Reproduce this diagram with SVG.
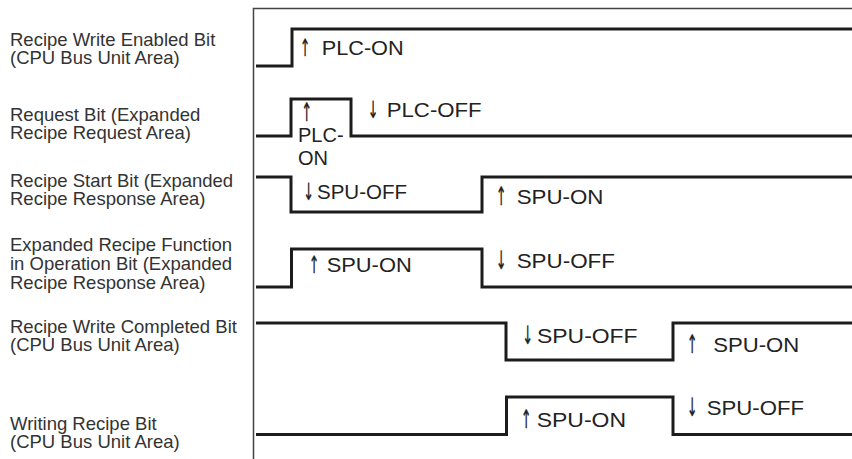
<svg xmlns="http://www.w3.org/2000/svg" width="852" height="459" viewBox="0 0 852 459">
<style>
.lbl{font-family:"Liberation Sans",Arial,sans-serif;font-size:18.5px;fill:#333}
.tt{font-family:"Liberation Sans",Arial,sans-serif;font-size:20px;fill:#222}
.tb{font-size:21px}
.ar{font-family:"DejaVu Sans",sans-serif;font-size:17px;fill:#222;stroke:#222;stroke-width:0.25;text-anchor:middle}
.sig{fill:none;stroke:#1c1c1c;stroke-width:3;stroke-linejoin:miter;stroke-linecap:butt}
.frame{fill:none;stroke:#444;stroke-width:1.5}
</style>
<rect width="852" height="459" fill="#fff"/>
<g id="frame">
<path class="frame" d="M253.5 459 V8.5 H852"/>
</g>
<g id="sig-write-enabled">
<text class="lbl"><tspan x="10" y="46">Recipe Write Enabled Bit</tspan><tspan x="10" dy="18">(CPU Bus Unit Area)</tspan></text>
<text class="ar" transform="translate(305 56) scale(0.75 1.4)">↑</text>
<text class="tt" x="321.7" y="55" textLength="82" lengthAdjust="spacingAndGlyphs">PLC-ON</text>
</g>
<g id="sig-request">
<text class="lbl"><tspan x="10" y="121">Request Bit (Expanded</tspan><tspan x="10" dy="18">Recipe Request Area)</tspan></text>
<text class="ar" transform="translate(306.5 121) scale(0.75 1.5)">↑</text>
<text class="tt"><tspan x="298" y="142">PLC-</tspan><tspan x="298" y="165">ON</tspan></text>
<text class="ar" transform="translate(373 118) scale(0.75 1.4)">↓</text>
<text class="tt" x="386.7" y="117" textLength="95" lengthAdjust="spacingAndGlyphs">PLC-OFF</text>
</g>
<g id="sig-start">
<text class="lbl"><tspan x="10" y="187">Recipe Start Bit (Expanded</tspan><tspan x="10" dy="18">Recipe Response Area)</tspan></text>
<text class="ar" transform="translate(308.5 200) scale(0.75 1.4)">↓</text>
<text class="tt" x="317" y="199" textLength="90" lengthAdjust="spacingAndGlyphs">SPU-OFF</text>
<text class="ar" transform="translate(501 205) scale(0.75 1.5)">↑</text>
<text class="tt tb" x="516.7" y="204" textLength="86.7" lengthAdjust="spacingAndGlyphs">SPU-ON</text>
</g>
<g id="sig-in-operation">
<text class="lbl"><tspan x="10" y="251">Expanded Recipe Function</tspan><tspan x="10" dy="19">in Operation Bit (Expanded</tspan><tspan x="10" dy="19">Recipe Response Area)</tspan></text>
<text class="ar" transform="translate(314 272.5) scale(0.75 1.4)">↑</text>
<text class="tt" x="326.7" y="271.5" textLength="85" lengthAdjust="spacingAndGlyphs">SPU-ON</text>
<text class="ar" transform="translate(501 269) scale(0.75 1.5)">↓</text>
<text class="tt tb" x="516.7" y="268" textLength="98.3" lengthAdjust="spacingAndGlyphs">SPU-OFF</text>
</g>
<g id="sig-write-completed">
<text class="lbl"><tspan x="10" y="333">Recipe Write Completed Bit</tspan><tspan x="10" dy="18">(CPU Bus Unit Area)</tspan></text>
<text class="ar" transform="translate(527.5 344) scale(0.75 1.5)">↓</text>
<text class="tt tb" x="537" y="343" textLength="100.6" lengthAdjust="spacingAndGlyphs">SPU-OFF</text>
<text class="ar" transform="translate(692 352.5) scale(0.75 1.5)">↑</text>
<text class="tt tb" x="713.3" y="351.5" textLength="86" lengthAdjust="spacingAndGlyphs">SPU-ON</text>
</g>
<g id="sig-writing">
<text class="lbl"><tspan x="10" y="430">Writing Recipe Bit</tspan><tspan x="10" dy="18">(CPU Bus Unit Area)</tspan></text>
<text class="ar" transform="translate(526 427.5) scale(0.75 1.5)">↑</text>
<text class="tt tb" x="536.7" y="426.5" textLength="89.3" lengthAdjust="spacingAndGlyphs">SPU-ON</text>
<text class="ar" transform="translate(692 416) scale(0.75 1.5)">↓</text>
<text class="tt tb" x="706.7" y="415" textLength="97.3" lengthAdjust="spacingAndGlyphs">SPU-OFF</text>
</g>
<g id="connectors">
<path class="sig" d="M256 66 H292 V29 H852"/>
<path class="sig" d="M256 136 H291 V99 H351 V136 H852"/>
<path class="sig" d="M256 177 H291 V212 H482 V177 H852"/>
<path class="sig" d="M256 287 H291.5 V249 H482 V287 H852"/>
<path class="sig" d="M256 323 H506 V360 H673 V323 H852"/>
<path class="sig" d="M256 434.5 H506.5 V397 H673 V434.5 H852"/>
</g>
</svg>
